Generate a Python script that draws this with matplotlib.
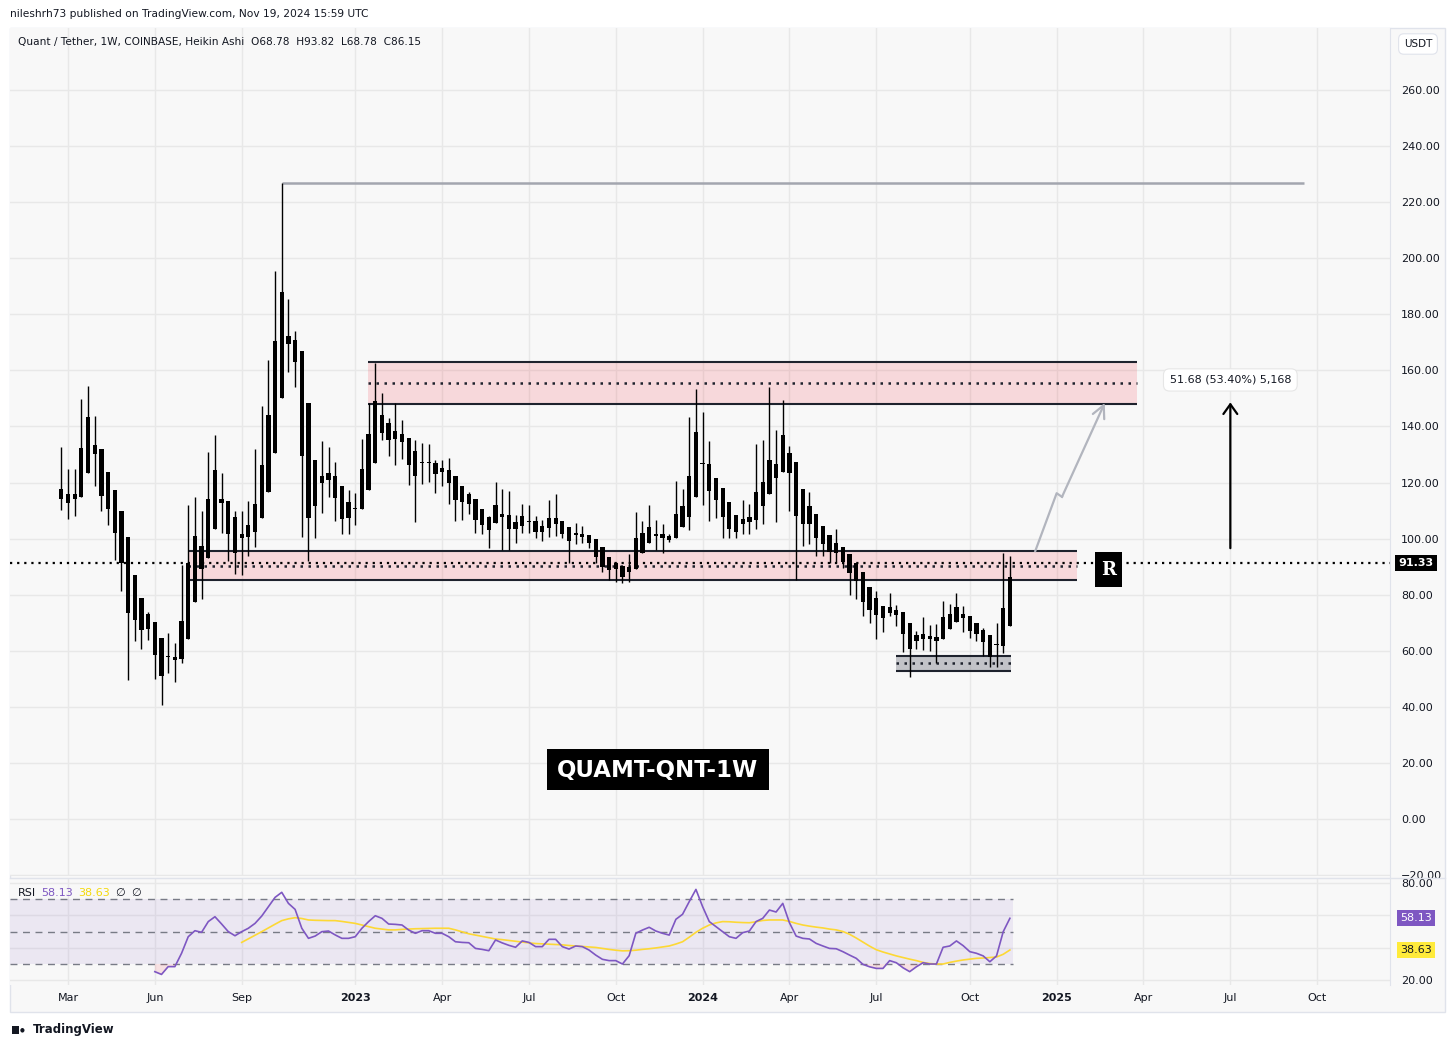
import matplotlib.pyplot as plt
from matplotlib.patches import Rectangle
import numpy as np
import pandas as pd

W, H = 1455, 1047
OUTPUT_FILENAME = "out.png"
FONT = "DejaVu Sans"

# weekly Heikin Ashi candles, first bar = week of 2022-02-28
START_WEEK = "2022-02-28"
body_top = [117.7, 115.8, 115.8, 132.2, 143.4, 133.3, 132.0, 123.8, 117.4, 109.9,
            100.6, 87.0, 78.7, 73.1, 70.2, 64.6, 58.2, 57.8, 70.6, 91.4,
            101.0, 97.4, 114.2, 124.5, 114.2, 113.4, 107.7, 101.7, 104.9, 112.4,
            126.3, 144.1, 170.4, 187.8, 172.2, 170.7, 166.9, 148.3, 128.0, 122.4,
            123.4, 122.4, 118.7, 113.0, 110.6, 124.8, 137.3, 149.0, 144.1, 141.4,
            138.4, 137.3, 135.9, 131.3, 127.0, 127.0, 126.9, 125.1, 124.5, 122.4,
            118.6, 115.9, 114.0, 110.6, 107.8, 112.0, 108.7, 108.4, 105.8, 108.1,
            106.2, 106.3, 104.5, 107.4, 107.4, 106.3, 104.2, 101.6, 101.7, 101.3,
            99.9, 96.9, 93.3, 91.2, 90.3, 89.8, 100.1, 101.9, 104.2, 101.8,
            101.6, 100.9, 108.7, 111.6, 122.3, 138.0, 126.8, 126.5, 121.8, 117.9,
            112.9, 108.3, 106.9, 107.7, 116.5, 120.1, 128.0, 126.6, 136.9, 130.4,
            127.3, 117.7, 111.6, 108.7, 104.5, 101.2, 98.5, 97.1, 94.6, 91.4,
            88.2, 82.9, 78.7, 76.0, 75.5, 74.5, 74.0, 69.8, 65.6, 66.0,
            65.3, 65.0, 71.9, 73.1, 75.5, 73.1, 72.4, 69.8, 67.6, 65.6,
            62.1, 75.1, 86.15]
body_bot = [114.0, 112.8, 114.3, 115.0, 123.5, 130.3, 115.3, 110.7, 102.1, 91.2,
            73.4, 71.0, 67.4, 67.7, 58.4, 51.0, 57.7, 56.9, 57.2, 64.1,
            77.5, 89.3, 93.2, 103.6, 112.6, 101.8, 95.0, 100.1, 100.7, 102.5,
            107.5, 116.8, 130.4, 150.2, 169.3, 163.1, 129.6, 107.4, 111.7, 119.9,
            121.0, 114.6, 107.1, 107.4, 110.4, 110.4, 117.5, 127.0, 137.8, 135.2,
            135.6, 134.5, 126.4, 122.5, 126.8, 126.8, 123.1, 123.9, 120.0, 113.8,
            113.2, 112.2, 106.7, 104.9, 103.1, 105.5, 107.6, 103.6, 103.3, 104.6,
            106.0, 102.5, 102.5, 103.7, 105.2, 101.5, 99.3, 101.4, 100.7, 98.6,
            93.6, 90.0, 88.8, 89.1, 86.4, 88.2, 89.1, 94.8, 98.3, 101.0,
            100.3, 99.5, 100.3, 104.2, 107.8, 114.9, 126.6, 117.1, 113.7, 107.8,
            103.5, 102.4, 105.3, 106.0, 106.6, 111.6, 115.9, 121.7, 123.9, 123.5,
            108.1, 105.4, 105.4, 100.4, 98.0, 95.3, 94.9, 91.6, 87.6, 85.0,
            77.5, 74.5, 72.8, 71.6, 73.6, 72.8, 65.9, 60.7, 63.6, 64.3,
            64.3, 63.6, 64.1, 67.9, 70.4, 71.6, 67.2, 65.9, 63.2, 57.9,
            61.9, 61.8, 68.78]
highs = [132.8, 124.7, 124.9, 149.8, 154.5, 143.8, 132.0, 123.8, 117.4, 109.9,
         100.6, 87.0, 78.7, 73.9, 70.2, 64.6, 66.2, 62.7, 90.5, 112.0,
         115.0, 109.9, 131.0, 137.0, 123.5, 113.4, 110.0, 110.0, 113.4, 132.0,
         147.3, 163.7, 195.4, 226.7, 185.4, 174.2, 166.9, 148.3, 128.0, 134.8,
         132.8, 127.3, 118.7, 117.5, 116.4, 135.6, 148.2, 162.8, 152.1, 143.2,
         148.5, 142.3, 135.9, 135.2, 134.2, 133.8, 128.0, 128.0, 128.7, 122.4,
         118.8, 116.6, 114.0, 110.6, 108.1, 120.2, 117.7, 117.0, 108.4, 112.4,
         112.0, 108.1, 106.7, 113.8, 115.9, 106.3, 104.2, 105.5, 104.5, 101.3,
         99.9, 96.9, 93.3, 91.8, 90.3, 94.5, 109.4, 106.4, 112.0, 106.6,
         105.4, 101.8, 120.5, 117.7, 143.5, 153.3, 145.1, 134.8, 121.8, 117.9,
         112.9, 108.3, 113.7, 112.5, 133.7, 135.1, 154.2, 138.7, 149.4, 133.0,
         127.3, 117.7, 116.5, 108.7, 104.5, 101.2, 103.3, 97.1, 94.6, 91.4,
         88.2, 82.9, 81.3, 76.0, 80.7, 76.3, 74.0, 69.8, 67.0, 71.9,
         69.2, 69.5, 77.7, 76.7, 80.7, 76.0, 72.4, 69.8, 68.0, 65.6,
         69.8, 95.0, 93.82]
lows = [110.2, 106.9, 108.1, 115.0, 123.5, 118.8, 110.0, 105.0, 92.4, 81.2,
        49.6, 63.6, 60.5, 63.9, 49.8, 40.6, 52.0, 48.9, 55.5, 64.1,
        77.5, 78.4, 93.2, 103.6, 101.9, 92.2, 87.3, 87.0, 93.9, 97.1,
        107.5, 116.8, 130.4, 150.2, 159.5, 154.2, 100.7, 92.1, 100.3, 109.0,
        115.0, 106.4, 101.5, 101.5, 105.0, 110.4, 117.5, 127.0, 135.2, 129.3,
        126.4, 128.5, 119.1, 106.1, 119.5, 120.3, 116.4, 118.8, 112.4, 106.4,
        106.7, 108.8, 102.1, 101.7, 96.8, 105.5, 96.0, 96.0, 98.6, 102.1,
        101.9, 100.1, 99.3, 100.7, 101.0, 100.1, 91.4, 98.0, 98.3, 96.6,
        91.2, 88.2, 85.3, 84.4, 84.1, 84.7, 89.1, 94.8, 98.3, 95.9,
        95.0, 98.9, 100.3, 104.2, 103.0, 114.9, 111.9, 106.4, 107.2, 100.4,
        100.4, 100.1, 101.5, 101.5, 103.5, 105.4, 115.9, 106.0, 123.9, 109.9,
        85.2, 97.4, 98.2, 93.8, 93.8, 91.4, 91.2, 89.6, 80.0, 78.5,
        72.5, 70.0, 64.1, 66.8, 72.5, 68.9, 59.7, 50.5, 60.6, 60.3,
        60.0, 55.7, 64.1, 67.9, 70.4, 66.8, 64.4, 63.6, 58.1, 54.3,
        54.3, 59.1, 68.78]

RSI_FIRST_BAR = 14
rsi = [25.3, 23.6, 28.4, 28.4, 36.6, 46.8, 50.5, 49.5, 56.1, 59.1,
       54.6, 49.9, 47.4, 49.9, 52.0, 55.0, 59.5, 65.3, 71.0, 74.1,
       67.3, 63.6, 52.0, 45.8, 47.2, 49.9, 50.3, 47.9, 45.8, 45.8,
       46.8, 52.0, 56.1, 59.7, 58.1, 54.6, 54.4, 54.0, 50.9, 48.9,
       50.5, 50.5, 48.9, 48.9, 46.8, 43.7, 43.3, 43.1, 39.6, 39.0,
       38.2, 44.8, 43.0, 41.5, 40.3, 44.2, 43.3, 40.7, 40.7, 45.2,
       45.2, 40.7, 39.2, 41.1, 40.7, 38.6, 35.5, 32.9, 32.1, 32.1,
       30.0, 35.1, 48.9, 50.9, 52.6, 50.3, 48.9, 47.8, 57.5, 60.6,
       68.4, 75.9, 65.3, 56.1, 53.0, 49.9, 46.8, 45.8, 49.3, 50.3,
       56.1, 58.1, 63.2, 62.0, 67.3, 55.4, 47.2, 45.8, 45.4, 42.7,
       41.1, 39.6, 39.4, 37.6, 35.5, 33.5, 29.8, 28.3, 27.3, 27.3,
       32.1, 30.8, 27.7, 25.3, 28.3, 30.8, 30.0, 30.0, 40.3, 41.1,
       44.2, 41.3, 37.6, 36.6, 35.0, 31.4, 35.0, 49.9, 58.13]
MA_FIRST_BAR = 27
rsi_ma = [43.3, 45.5, 47.7, 49.9, 52.2, 54.5, 56.7, 57.8, 58.5, 58.0,
          57.1, 56.9, 56.8, 56.7, 56.7, 56.2, 55.6, 55.0, 54.0, 53.0,
          52.0, 51.5, 51.0, 51.0, 51.3, 51.5, 51.7, 51.8, 51.9, 52.0,
          52.0, 52.0, 51.0, 49.8, 48.6, 47.8, 47.0, 46.2, 45.4, 45.0,
          44.5, 44.0, 43.5, 43.0, 42.6, 42.4, 42.2, 42.0, 41.8, 41.4,
          41.1, 40.8, 40.5, 40.2, 39.6, 39.0, 38.5, 38.1, 38.2, 38.5,
          39.0, 39.4, 39.9, 40.5, 41.1, 42.3, 43.7, 46.5, 49.5, 52.0,
          54.0, 55.3, 56.1, 56.0, 55.7, 55.5, 55.4, 56.0, 56.8, 57.1,
          57.1, 57.1, 56.2, 55.0, 54.0, 53.3, 52.7, 52.2, 51.5, 51.0,
          50.0, 48.3, 46.0, 43.5, 41.0, 38.8, 37.4, 36.2, 35.0, 34.0,
          33.0, 32.1, 31.0, 30.3, 30.0, 30.0, 31.0, 31.8, 32.5, 33.0,
          33.5, 33.7, 34.0, 34.3, 36.0, 38.63]

TICK_MONTHS = [(2022, 3), (2022, 6), (2022, 9), (2023, 1), (2023, 4), (2023, 7),
               (2023, 10), (2024, 1), (2024, 4), (2024, 7), (2024, 10), (2025, 1),
               (2025, 4), (2025, 7), (2025, 10)]

LAST_PRICE = 91.33
TARGET_TEXT = "51.68 (53.40%) 5,168"

BG = "#f8f8f8"
GRID = "#e8e8e8"
DARK = "#131722"
PINK = (242 / 255, 54 / 255, 69 / 255, 0.16)
GREY_ZONE = (120 / 255, 123 / 255, 134 / 255, 0.42)
DOT = (0, (1, 2.2))


def fx(px):
    return px / W


def fy(py):
    return 1 - py / H


def zone(ax, x0, x1, lo, hi, face):
    ax.add_patch(Rectangle((x0, lo), x1 - x0, hi - lo, facecolor=face, edgecolor="none", zorder=1))
    ax.hlines([lo, hi], x0, x1, color="#1e222d", lw=1.5, zorder=4)
    ax.hlines((lo + hi) / 2, x0, x1, color="#1e222d", lw=1.8, linestyles=[DOT], zorder=4)


fig = plt.figure(figsize=(W / 100, H / 100), dpi=100)
fig.patch.set_facecolor("white")
plt.rcParams["font.family"] = FONT

# chart frame (behind the axes)
frame = Rectangle((fx(10), fy(1012)), fx(1445) - fx(10), fy(28) - fy(1012),
                  transform=fig.transFigure, facecolor=BG, edgecolor="#e0e3eb", lw=1, zorder=-10)
fig.add_artist(frame)

ax = fig.add_axes([fx(10), fy(876), fx(1390) - fx(10), fy(28) - fy(876)])
ax2 = fig.add_axes([fx(10), fy(985), fx(1390) - fx(10), fy(879) - fy(985)])
for a in (ax, ax2):
    a.set_facecolor(BG)
    a.set_zorder(1)
    for s in a.spines.values():
        s.set_visible(False)

n = len(body_top)
x = np.arange(n)
dates = pd.date_range(START_WEEK, periods=200, freq="7D")
tick_pos, tick_lab = [], []
for yr, mo in TICK_MONTHS:
    idx = int(np.where((dates.year == yr) & (dates.month == mo))[0][0])
    tick_pos.append(idx)
    tick_lab.append(str(yr) if mo == 1 else dates[idx].strftime("%b"))

xlim = (-7.68, 198.9)

# ---- price pane ----
ax.set_xlim(*xlim)
ax.set_ylim(-20.3, 282.1)
ax.set_yticks(np.arange(-20, 261, 20))
ax.set_yticklabels([f"{v:.2f}".replace("-", "\u2212") for v in np.arange(-20, 261, 20)])
ax.yaxis.tick_right()
ax.tick_params(axis="y", length=0, pad=8, labelsize=8, labelcolor=DARK)
ax.set_xticks(tick_pos)
ax.tick_params(axis="x", length=0, labelbottom=False)
ax.grid(True, color=GRID, lw=1)
ax.set_axisbelow(True)

top = np.array(body_top)
bot = np.array(body_bot)
ax.vlines(x, lows, highs, color="black", lw=1.0, zorder=5)
ax.bar(x, np.maximum(top - bot, 0.45), bottom=bot, width=0.64, color="black", zorder=5)

# resistance / support zones
zone(ax, 45.9, 161.0, 148.0, 163.0, PINK)
zone(ax, 18.9, 152.0, 85.2, 95.6, PINK)
zone(ax, 124.9, 142.1, 52.9, 58.1, GREY_ZONE)

# all time high line
ax.hlines(227.0, 33.0, 186.0, color="#a3a6af", lw=1.8, zorder=3)

# last price dotted line
ax.axhline(LAST_PRICE, color="black", lw=1.6, linestyle=DOT, zorder=3)

# projected path
path_x = [145.8, 149.0, 149.8]
path_y = [95.6, 116.2, 114.9]
ax.plot(path_x, path_y, color="#b2b5be", lw=1.6, zorder=6)
ax.annotate("", xy=(156.2, 148.4), xytext=(149.8, 114.9),
            arrowprops=dict(arrowstyle="->,head_length=0.9,head_width=0.45",
                            color="#b2b5be", lw=1.6, shrinkA=0, shrinkB=0), zorder=6)

# measured move arrow
ax.annotate("", xy=(175.0, 148.6), xytext=(175.0, 96.6),
            arrowprops=dict(arrowstyle="->,head_length=0.7,head_width=0.5",
                            color="black", lw=1.6, shrinkA=0, shrinkB=0), zorder=6)
ax.text(175.0, 156.6, TARGET_TEXT, ha="center", va="center", fontsize=8, color=DARK,
        bbox=dict(boxstyle="round,pad=0.55", fc="white", ec="#e6e6e6", lw=0.8), zorder=7)

# R marker
ax.add_patch(Rectangle((154.7, 82.7), 4.1, 12.5, facecolor="black", edgecolor="none", zorder=7))
ax.text(156.75, 88.9, "R", ha="center", va="center", color="white", fontsize=13,
        fontweight="bold", family="DejaVu Serif", zorder=8)

# title box
ax.add_patch(Rectangle((72.7, 10.3), 33.2, 14.7, facecolor="black", edgecolor="none", zorder=7))
ax.text(89.3, 17.4, "QUAMT-QNT-1W", ha="center", va="center", color="white", fontsize=16.5,
        fontweight="bold", zorder=8)

# ---- RSI pane ----
ax2.set_xlim(*xlim)
ax2.set_ylim(17.1, 82.3)
rx = np.arange(RSI_FIRST_BAR, RSI_FIRST_BAR + len(rsi))
mx = np.arange(MA_FIRST_BAR, MA_FIRST_BAR + len(rsi_ma))
rsi_arr = np.array(rsi)
ax2.fill_between([xlim[0], n - 1 + 0.5], 30, 70, color="#7e57c2", alpha=0.1, lw=0, zorder=1)
ax2.hlines([70, 50, 30], xlim[0], n - 1 + 0.5, color="#787b86", lw=1, linestyles=[(0, (5, 4))], zorder=2)
ax2.fill_between(rx, rsi_arr, 30, where=rsi_arr < 30, interpolate=True,
                 color="#f23645", alpha=0.12, lw=0, zorder=2)
ax2.plot(mx, rsi_ma, color="#fdd835", lw=1.2, zorder=3)
ax2.plot(rx, rsi, color="#7e57c2", lw=1.2, zorder=4)
ax2.set_yticks([20, 40, 60, 80])
ax2.set_yticklabels(["20.00", "", "", "80.00"])
ax2.yaxis.tick_right()
ax2.tick_params(axis="y", length=0, pad=8, labelsize=8, labelcolor=DARK)
ax2.set_xticks(tick_pos)
ax2.set_xticklabels(tick_lab)
ax2.tick_params(axis="x", length=0, pad=6, labelsize=8, labelcolor=DARK)
for lbl in ax2.get_xticklabels():
    if lbl.get_text().isdigit():
        lbl.set_fontweight("bold")
ax2.grid(True, color=GRID, lw=1)
ax2.set_axisbelow(True)

# pane separators
fig.add_artist(plt.Line2D([fx(10), fx(1445)], [fy(877.5), fy(877.5)], color="#e0e3eb", lw=1))
fig.add_artist(plt.Line2D([fx(1390), fx(1390)], [fy(28), fy(985)], color="#e0e3eb", lw=0.8))

# texts
fig.text(fx(10), fy(14), "nileshrh73 published on TradingView.com, Nov 19, 2024 15:59 UTC",
         fontsize=7.7, color=DARK, va="center")
fig.text(fx(18), fy(42), "Quant / Tether, 1W, COINBASE, Heikin Ashi  O68.78  H93.82  L68.78  C86.15",
         fontsize=7.6, color=DARK, va="center", zorder=5)
fig.text(fx(1418), fy(44), "USDT", fontsize=7.5, color=DARK, ha="center", va="center", zorder=5,
         bbox=dict(boxstyle="round,pad=0.5", fc="white", ec="#e0e3eb", lw=0.8))
fig.text(fx(1416), fy(563), f"{LAST_PRICE:.2f}", fontsize=8, color="white", ha="center", va="center",
         fontweight="bold", zorder=5, bbox=dict(boxstyle="square,pad=0.3", fc="black", ec="none"))
fig.text(fx(1416), fy(918), f"{rsi[-1]:.2f}", fontsize=8, color="white", ha="center", va="center",
         zorder=5, bbox=dict(boxstyle="square,pad=0.3", fc="#7e57c2", ec="none"))
fig.text(fx(1416), fy(950), f"{rsi_ma[-1]:.2f}", fontsize=8, color=DARK, ha="center", va="center",
         zorder=5, bbox=dict(boxstyle="square,pad=0.3", fc="#ffeb3b", ec="none"))
fig.text(fx(18), fy(893), "RSI", fontsize=8, color=DARK, va="center", zorder=5)
fig.text(fx(41), fy(893), f"{rsi[-1]:.2f}", fontsize=8, color="#7e57c2", va="center", zorder=5)
fig.text(fx(78), fy(893), f"{rsi_ma[-1]:.2f}", fontsize=8, color="#f5d90a", va="center", zorder=5)
fig.text(fx(115), fy(893), "\u2205", fontsize=8, color=DARK, va="center", zorder=5)
fig.text(fx(131), fy(893), "\u2205", fontsize=8, color=DARK, va="center", zorder=5)

# TradingView logo
fig.add_artist(Rectangle((fx(12), fy(1034)), fx(7), fy(1026) - fy(1034),
                         transform=fig.transFigure, facecolor=DARK, edgecolor="none"))
fig.text(fx(20), fy(1030), "\u25cf", fontsize=4, color=DARK, va="center")
fig.text(fx(33), fy(1029), "TradingView", fontsize=8.5, color=DARK, va="center", fontweight="semibold")

fig.savefig(OUTPUT_FILENAME, dpi=100, facecolor="white")
plt.close(fig)
